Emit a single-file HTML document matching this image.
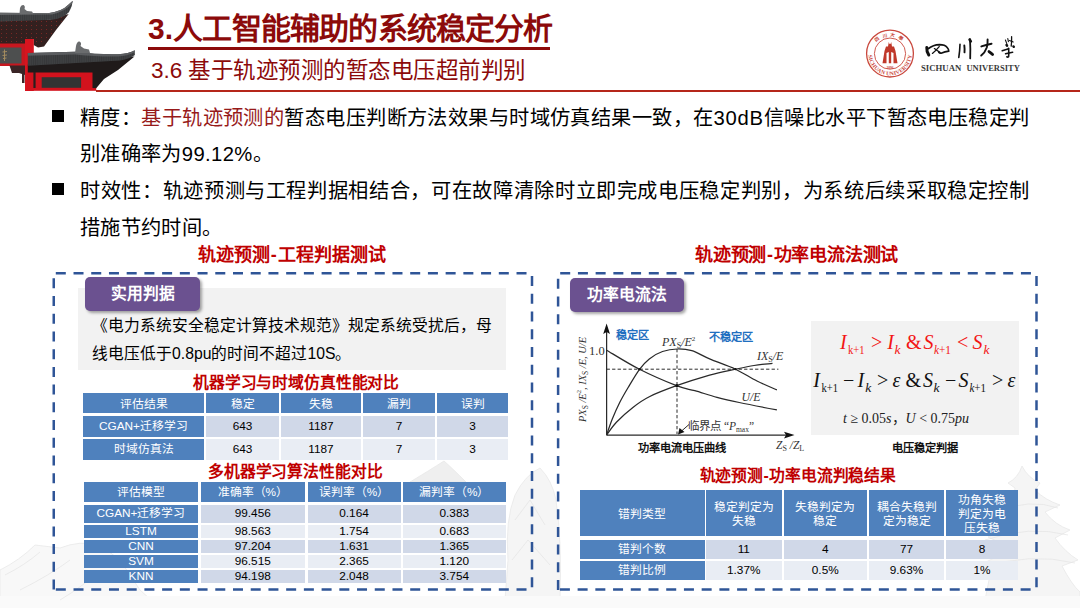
<!DOCTYPE html>
<html lang="zh-CN">
<head>
<meta charset="utf-8">
<style>
*{margin:0;padding:0;box-sizing:border-box;}
html,body{width:1080px;height:608px;overflow:hidden;background:#fff;}
body{position:relative;font-family:"Liberation Sans",sans-serif;color:#000;}
.abs{position:absolute;}
.nw{white-space:nowrap;}
#title{left:148px;top:8.5px;font-size:30px;letter-spacing:-0.82px;font-weight:900;color:#8C0A0A;line-height:40px;}
#uline{left:148px;top:47px;width:402px;height:3.3px;background:#8C0A0A;}
#sub{left:150.9px;top:53.7px;font-size:22.5px;letter-spacing:-0.5px;color:#8C0A0A;line-height:34px;}
#hline{left:96px;top:90px;width:984px;height:2px;background:#B5261A;}
.bul{width:12px;height:12px;background:#000;}
.para{font-size:20.25px;letter-spacing:0.36px;line-height:36px;color:#000;}
.red{color:#971A1A;}
.jl{width:949.5px;text-align:justify;text-align-last:justify;}
.sect{font-size:18px;font-weight:900;color:#C00000;line-height:24px;}
.tab{background:#6B5190;border-radius:5px;color:#fff;font-weight:bold;font-size:15.75px;text-align:center;box-shadow:2px 2px 3px rgba(0,0,0,0.35);}
.gbox{background:#F2F2F2;}
.tt{font-size:15.75px;font-weight:900;letter-spacing:-0.15px;color:#C00000;line-height:20px;}
table{border-collapse:separate;border-spacing:0;}
.tbl{position:absolute;}
.cell{position:absolute;display:flex;align-items:center;justify-content:center;text-align:center;font-size:11.8px;line-height:13.75px;}
.fm{font-family:"Liberation Serif",serif;font-style:italic;font-size:20px;line-height:24px;}
.fm sub{font-style:normal;font-size:13.5px;vertical-align:-4px;line-height:0;}
.fm sub.i{font-style:italic;}
.fm .u{font-style:normal;}
.h{background:#4F81BD;color:#fff;}
.cell{padding-top:1px;}
.hr{padding-top:3px;}
.h3{padding-top:4px;}
.b1{background:#D0D8E8;color:#000;}
.b2{background:#E9EDF4;color:#000;}
</style>
</head>
<body>
<!-- faint background sketch -->
<svg class="abs" style="left:0;top:0" width="1080" height="608" viewBox="0 0 1080 608">
 <g fill="#f5f5f5" stroke="#e9e9e9" stroke-width="0.8">
  <path d="M0,608 L0,570 Q20,560 35,545 L60,548 Q80,540 100,545 L120,560 L140,590 L160,608 Z" fill="#f8f8f8"/>
  <path d="M410,482 Q430,470 444,461 Q452,468 466,482 Z" fill="#efefef"/>
  <path d="M505,600 L508,560 Q505,520 515,495 Q525,475 540,468 Q552,480 556,500 Q562,540 560,600 Z"/>
  <path d="M985,600 L990,575 L975,565 Q1000,560 1005,545 L988,537 Q1008,530 1010,515 L998,508 Q1015,500 1015,488 L1008,483 Q1018,478 1022,466 Q1028,478 1040,483 L1035,490 Q1045,500 1060,505 L1045,512 Q1055,525 1070,530 L1055,538 Q1065,552 1078,560 L1062,566 Q1072,585 1080,592 L1080,608 L985,608 Z"/>
  <path d="M0,596 H1080 V608 H0 Z" stroke="none" fill="#fafafa"/>
 </g>
 <g fill="none" stroke="#e4e4e4" stroke-width="0.7">
  <path d="M5,575 Q25,565 40,552 M20,590 Q50,575 70,560 M60,600 Q85,585 100,570"/>
  <path d="M995,512 Q1030,498 1058,508 M985,540 Q1030,525 1068,535 M980,568 Q1030,552 1075,563"/>
  <path d="M515,520 L530,500 L545,525 M512,560 L528,540 L550,565"/>
 </g>
</svg>

<!-- temple -->
<svg class="abs" style="left:0;top:0" width="140" height="95" viewBox="0 0 140 95">
 <defs>
  <pattern id="tiles" width="2.2" height="4" patternUnits="userSpaceOnUse"><rect width="1" height="4" fill="#2b2c2e"/></pattern>
  <pattern id="brk" width="5" height="4" patternUnits="userSpaceOnUse"><rect x="1" y="1" width="1" height="1" fill="#8a2a26"/></pattern>
 </defs>
 <!-- upper under-eave dark -->
 <path d="M0,20 L50,19.5 L68.7,14 L56,30 L44,46.5 L38,47.5 L33.6,45 L33.6,39 L25,39 L25,44 L0,44 Z" fill="#33201f"/>
 <!-- upper roof tiles -->
 <path d="M0,12.8 L30,13 L48,13.2 Q62,11.5 68,5 L72.8,0.8 Q72.5,6 69,12 Q64,18 52,19.8 L0,21.5 Z" fill="#434547"/>
 <path d="M0,12.8 L48,13.2 Q62,11.5 68,5 L72.8,0.8 L72,3.5 Q66,11 52,14.5 L0,15 Z" fill="#646668"/>
 <path d="M0,15 L52,14.5 Q66,11 72,3.5 Q72.5,6 69,12 Q64,18 52,19.8 L0,21.5 Z" fill="url(#tiles)" opacity="0.45"/>
 <path d="M0,21.5 L52,19.8 L66,16 L50,36 L40,44 L34,44 L34,39 L25,39 L25,43.5 L0,43.5 Z" fill="url(#brk)" opacity="0.8"/>
 <!-- ridge ornament upper -->
 <path d="M19.5,14 L20,8 Q21,4.5 23.5,5 Q25.5,6 24.5,9 L27,11 L32,11.5 L33.5,14 Z" fill="#6a6c6e"/>
 <!-- left red band + plaque -->
 <rect x="0" y="43.5" width="26" height="22.5" fill="#c8171f"/>
 <rect x="0" y="47.5" width="21.5" height="16" fill="#4d4f4f"/>
 <path d="M4.5,49.5 L4.5,61 M2.5,52 L7,51.5 M2.5,55.5 L7,55 M3,58.5 L6.5,58" stroke="#a89060" stroke-width="0.9" fill="none"/>
 <path d="M9.5,65.5 L25,65.5 L25,75 L19,73 L12,73 Z" fill="#3a2526"/>
 <rect x="22" y="73" width="2.5" height="10" fill="#3a2526"/>
 <!-- pillar -->
 <rect x="25" y="39" width="8.8" height="52" fill="#d8141f"/>
 <!-- lower area red -->
 <rect x="26.7" y="66" width="69.5" height="24.8" fill="#d3121d"/>
 <path d="M27.8,64.5 L134.5,56.5 L118,70 L104,79 L96.2,88.3 L92.5,88 L92.5,72.5 L27.8,72.5 Z" fill="#1f1a1a"/>
 <rect x="33.4" y="72" width="2.2" height="16" fill="#2a1e1e"/>
 <rect x="41.7" y="77.2" width="39.4" height="10.6" fill="#323333"/>
 <!-- lower roof tiles -->
 <path d="M27.8,53 L75,51.8 Q100,54.8 118,54.2 Q129,53.6 134.8,50.3 L134.8,55 Q130,58.8 120,60.6 L27.8,65.8 Z" fill="#3f4143"/>
 <path d="M27.8,53 L75,51.8 Q100,54.8 118,54.2 Q129,53.6 134.8,50.3 L134,52.6 Q128,56 118,56.4 Q100,57 75,54.5 L27.8,55.8 Z" fill="#5a5c5f"/>
 <path d="M27.8,55.8 L75,54.5 Q100,57 118,56.4 Q128,56 134,52.6 L134.8,55 Q130,58.8 120,60.6 L27.8,65.8 Z" fill="url(#tiles)" opacity="0.45"/>
 <!-- ridge ornament lower -->
 <path d="M75,53 L76,46 Q77,41 79.5,41.5 Q82,42.5 80.5,46 L84,48.5 L89,49.5 L90,53 Z" fill="#6a6c6e"/>
</svg>

<div id="title" class="abs nw"><span style="letter-spacing:0.14px">3.</span>人工智能辅助的系统稳定分析</div>
<div id="uline" class="abs"></div>
<div id="sub" class="abs nw"><span style="letter-spacing:0">3.6 </span>基于轨迹预测的暂态电压超前判别</div>
<div id="hline" class="abs"></div>

<!-- logo -->
<svg class="abs" style="left:860px;top:26px" width="170" height="56" viewBox="860 26 170 56">
 <g fill="none" stroke="#c9473c">
  <circle cx="890" cy="53.6" r="23.4" stroke-width="1.3"/>
  <circle cx="890" cy="53.6" r="15.6" stroke-width="0.9"/>
 </g>
 <!-- ring text -->
 <defs>
  <path id="arcB" d="M868.2,53.6 A21.8,21.8 0 0 0 911.8,53.6"/>
  <path id="arcT" d="M872.8,53.6 A17.2,17.2 0 0 1 907.2,53.6"/>
 </defs>
 <text font-family="Liberation Serif, serif" font-weight="bold" font-size="5.6" fill="#c9473c" letter-spacing="0.15"><textPath href="#arcB" startOffset="50%" text-anchor="middle">SICHUAN UNIVERSITY</textPath></text>
 <text font-family="Liberation Serif, serif" font-weight="bold" font-size="4.6" fill="#c9473c" letter-spacing="2.6"><textPath href="#arcT" startOffset="50%" text-anchor="middle">四川大學</textPath></text>
 <text x="890" y="68.6" font-family="Liberation Serif, serif" font-weight="bold" font-size="3.6" fill="#c9473c" text-anchor="middle">1896</text>
 <!-- building -->
 <path d="M882.5,63.3 L884.5,51 L886,46.5 L888,46.5 L888.8,42 L889.5,44 L890.5,44 L891.2,42 L892,46.5 L894,46.5 L895.5,51 L897.5,63.3 L893.5,63.3 L893.5,53 L891.2,52 L891.2,63.3 L888.8,63.3 L888.8,52 L886.5,53 L886.5,63.3 Z" fill="#c0392b"/>
 <!-- 四川大學 calligraphy -->
 <g fill="none" stroke="#111" stroke-linecap="round" stroke-linejoin="round">
  <path d="M926.8,47.6 Q926.5,52 928.8,55" stroke-width="3"/>
  <path d="M928.5,48.5 Q933,44.8 939.5,44.6 Q945,44.6 947,47.2 Q949,49.5 948.8,51.2 Q945,51.8 941,53.2 Q939.5,53.3 938.8,52.2" stroke-width="1.7"/>
  <path d="M939.2,46.6 Q936,50.5 932.4,53.4" stroke-width="1.3"/>
  <path d="M934.4,48.6 Q937.5,51 940,52.4" stroke-width="1.3"/>
  <path d="M960,44.2 Q959.8,51 958.8,57.4" stroke-width="1.6"/>
  <path d="M964.3,45.4 Q964.8,49 964.5,52.4" stroke-width="1.9"/>
  <path d="M970,39.2 Q970.6,49 970.2,58.4" stroke-width="1.8"/>
  <path d="M969.6,39.5 L970.8,41.5" stroke-width="2.6"/>
  <path d="M981.4,46.4 Q986,45 991.5,43.8" stroke-width="2"/>
  <path d="M987.6,39.4 Q987.8,44 986.8,47.5 Q985,52.5 981.2,55.6" stroke-width="1.9"/>
  <path d="M989,51.6 Q991.2,53.2 992.6,54.6" stroke-width="2.8"/>
  <path d="M1011.6,36.6 Q1011.8,41.5 1011.2,46.2" stroke-width="1.3"/>
  <path d="M1005.4,40 L1006.8,43.6 M1007.8,38.6 L1008.4,41.6 M1009.5,40.5 L1013.2,42" stroke-width="1.1"/>
  <path d="M1006.6,45 L1007,45.6" stroke-width="2.6"/>
  <path d="M1013.4,46.4 L1013.8,46.8" stroke-width="2.4"/>
  <path d="M1002.2,50.8 Q1005.5,49.6 1008.6,48.8" stroke-width="1.5"/>
  <path d="M1005.6,53.7 Q1009,52.8 1012.6,52.2" stroke-width="1.6"/>
  <path d="M1008.6,48.4 Q1009,53 1008.6,56.6 Q1007.8,57.4 1006.8,56.8" stroke-width="1.6"/>
 </g>
 <text x="921" y="70.8" font-family="Liberation Serif, serif" font-weight="bold" font-size="8.4" fill="#3a3a3a" textLength="40.3" lengthAdjust="spacingAndGlyphs">SICHUAN</text>
 <text x="966.4" y="70.8" font-family="Liberation Serif, serif" font-weight="bold" font-size="8.4" fill="#3a3a3a" textLength="53.5" lengthAdjust="spacingAndGlyphs">UNIVERSITY</text>
</svg>

<!-- bullets -->
<div class="abs bul" style="left:52px;top:110px"></div>
<div id="l1" class="abs para nw jl" style="left:80px;top:99.8px">精度：<span class="red">基于轨迹预测的</span>暂态电压判断方法效果与时域仿真结果一致，在<span style="letter-spacing:0.75px">30dB</span>信噪比水平下暂态电压稳定判</div>
<div class="abs para nw" style="left:80px;top:135.8px">别准确率为99.12%。</div>
<div class="abs bul" style="left:52px;top:182.5px"></div>
<div id="l3" class="abs para nw jl" style="left:80px;top:172.6px">时效性：轨迹预测与工程判据相结合，可在故障清除时立即完成电压稳定判别，为系统后续采取稳定控制</div>
<div class="abs para nw" style="left:80px;top:209.6px">措施节约时间。</div>

<!-- section titles -->
<div class="abs sect nw" style="left:198px;top:242.8px">轨迹预测<span style="margin:0 0.8px">-</span>工程判据测试</div>
<div class="abs sect nw" style="left:695px;top:242.8px;letter-spacing:-0.2px">轨迹预测<span style="margin:0 0.8px">-</span>功率电流法测试</div>

<!-- dashed boxes -->
<svg class="abs" style="left:0;top:0" width="1080" height="608">
 <g fill="none" stroke="#2F5597" stroke-width="2.5" stroke-dasharray="10 7.72">
  <path d="M55.8,273.3 H533.3"/>
  <path d="M55.8,589.5 H533.3"/>
  <path d="M53.75,278.3 V591"/>
  <path d="M532,276.1 V591"/>
  <path d="M560.2,273.2 H1037.8"/>
  <path d="M559.9,589.4 H1037.8"/>
  <path d="M558.1,278.8 V591"/>
  <path d="M1036.5,276.1 V591"/>
 </g>
</svg>

<!-- left panel -->
<div class="abs gbox" style="left:78px;top:288px;width:428px;height:82px"></div>
<div class="abs tab" style="left:85px;top:277px;width:115px;height:34px;line-height:34px">实用判据</div>
<div class="abs nw" style="left:92px;top:311.6px;font-size:15.75px;line-height:28.4px">《电力系统安全稳定计算技术规范》规定系统受扰后，母<br>线电压低于0.8pu的时间不超过10S。</div>

<div class="abs tt nw" style="left:193px;top:373px">机器学习与时域仿真性能对比</div>

<!--T1-->
<div class="cell h hr" style="left:83px;top:393px;width:121px;height:20px">评估结果</div>
<div class="cell h hr" style="left:206px;top:393px;width:73px;height:20px">稳定</div>
<div class="cell h hr" style="left:281px;top:393px;width:80px;height:20px">失稳</div>
<div class="cell h hr" style="left:363px;top:393px;width:72px;height:20px">漏判</div>
<div class="cell h hr" style="left:437px;top:393px;width:71px;height:20px">误判</div>
<div class="cell h" style="left:83px;top:416px;width:121px;height:21px">CGAN+迁移学习</div>
<div class="cell b1" style="left:206px;top:416px;width:73px;height:21px">643</div>
<div class="cell b1" style="left:281px;top:416px;width:80px;height:21px">1187</div>
<div class="cell b1" style="left:363px;top:416px;width:72px;height:21px">7</div>
<div class="cell b1" style="left:437px;top:416px;width:71px;height:21px">3</div>
<div class="cell h" style="left:83px;top:439px;width:121px;height:21px">时域仿真法</div>
<div class="cell b2" style="left:206px;top:439px;width:73px;height:21px">643</div>
<div class="cell b2" style="left:281px;top:439px;width:80px;height:21px">1187</div>
<div class="cell b2" style="left:363px;top:439px;width:72px;height:21px">7</div>
<div class="cell b2" style="left:437px;top:439px;width:71px;height:21px">3</div>
<!--/T1-->

<div class="abs tt nw" style="left:208px;top:462px">多机器学习算法性能对比</div>
<!--T2-->
<div class="cell h hr" style="left:84px;top:482px;width:114px;height:19.5px">评估模型</div>
<div class="cell h hr" style="left:200.5px;top:482px;width:104.5px;height:19.5px">准确率（%）</div>
<div class="cell h hr" style="left:307.5px;top:482px;width:93.0px;height:19.5px">误判率（%）</div>
<div class="cell h hr" style="left:402.5px;top:482px;width:103.5px;height:19.5px">漏判率（%）</div>
<div class="cell h" style="left:84px;top:505px;width:114px;height:17.5px">CGAN+迁移学习</div>
<div class="cell b1" style="left:200.5px;top:505px;width:104.5px;height:17.5px">99.456</div>
<div class="cell b1" style="left:307.5px;top:505px;width:93.0px;height:17.5px">0.164</div>
<div class="cell b1" style="left:402.5px;top:505px;width:103.5px;height:17.5px">0.383</div>
<div class="cell h" style="left:84px;top:524.5px;width:114px;height:13.0px">LSTM</div>
<div class="cell b2" style="left:200.5px;top:524.5px;width:104.5px;height:13.0px">98.563</div>
<div class="cell b2" style="left:307.5px;top:524.5px;width:93.0px;height:13.0px">1.754</div>
<div class="cell b2" style="left:402.5px;top:524.5px;width:103.5px;height:13.0px">0.683</div>
<div class="cell h" style="left:84px;top:539.5px;width:114px;height:13.5px">CNN</div>
<div class="cell b1" style="left:200.5px;top:539.5px;width:104.5px;height:13.5px">97.204</div>
<div class="cell b1" style="left:307.5px;top:539.5px;width:93.0px;height:13.5px">1.631</div>
<div class="cell b1" style="left:402.5px;top:539.5px;width:103.5px;height:13.5px">1.365</div>
<div class="cell h" style="left:84px;top:554.5px;width:114px;height:13.5px">SVM</div>
<div class="cell b2" style="left:200.5px;top:554.5px;width:104.5px;height:13.5px">96.515</div>
<div class="cell b2" style="left:307.5px;top:554.5px;width:93.0px;height:13.5px">2.365</div>
<div class="cell b2" style="left:402.5px;top:554.5px;width:103.5px;height:13.5px">1.120</div>
<div class="cell h" style="left:84px;top:569.5px;width:114px;height:13.0px">KNN</div>
<div class="cell b1" style="left:200.5px;top:569.5px;width:104.5px;height:13.0px">94.198</div>
<div class="cell b1" style="left:307.5px;top:569.5px;width:93.0px;height:13.0px">2.048</div>
<div class="cell b1" style="left:402.5px;top:569.5px;width:103.5px;height:13.0px">3.754</div>
<!--/T2-->

<!-- right panel -->
<div class="abs tab" style="left:570px;top:278px;width:114px;height:34px;line-height:34px">功率电流法</div>

<div class="abs gbox" style="left:811px;top:321px;width:208px;height:114px"></div>

<!-- chart -->
<svg class="abs" style="left:0;top:0" width="1080" height="608" viewBox="0 0 1080 608">
 <defs><marker id="ah" markerWidth="8" markerHeight="8" refX="7" refY="4" orient="auto" markerUnits="userSpaceOnUse"><path d="M0,0.5 L8,4 L0,7.5 L2,4 Z" fill="#111"/></marker></defs>
 <g fill="none" stroke="#2a2a2a" stroke-width="1.25">
  <path d="M606.6,435.1 L606.6,327"/>
  <path d="M606.6,435.1 L791,435.1"/>
  <path d="M606.6,369.2 L778.4,369.2" stroke-dasharray="3.3 2.2" stroke-width="1"/>
  <path d="M677,349 L677,434" stroke-dasharray="3.3 2.2" stroke-width="1"/>
  <path d="M606.6,350.2 C612.1,353.4 627.9,363.4 639.5,369.3 C651.1,375.2 667.3,382.1 676.5,385.7 C685.7,389.3 688.0,388.8 694.8,390.7 C701.5,392.6 709.6,395.3 717.0,397.3 C724.4,399.3 729.2,400.4 739.2,402.5 C749.2,404.6 770.6,408.7 776.9,409.9"/>
  <path d="M606.6,435.1 C607.5,432.4 610.1,424.4 612.3,419.0 C614.5,413.6 617.1,407.7 619.7,402.5 C622.3,397.3 624.7,393.2 628.0,387.7 C631.3,382.2 636.0,374.1 639.5,369.3 C643.0,364.5 645.5,361.9 649.3,358.9 C653.1,355.9 657.8,353.1 662.5,351.5 C667.2,349.9 672.4,349.1 677.3,349.0 C682.2,348.9 686.4,349.1 691.8,350.7 C697.2,352.3 702.3,355.8 709.6,358.9 C716.9,362.0 727.6,365.5 735.5,369.2 C743.4,372.9 750.1,377.6 757.0,381.0 C763.9,384.4 773.6,388.4 776.9,389.9"/>
  <path d="M606.6,435.1 C608.2,433.0 612.0,426.8 616.4,422.2 C620.8,417.6 627.4,411.6 632.9,407.4 C638.4,403.1 642.0,400.3 649.3,396.7 C656.6,393.1 666.5,389.3 676.5,385.7 C686.5,382.1 699.8,377.9 709.6,375.1 C719.4,372.4 728.1,370.8 735.5,369.2 C742.9,367.6 747.8,366.5 754.0,365.5 C760.2,364.5 769.4,363.7 772.5,363.3"/>
  <path d="M689,424.5 L681,431.5" stroke-width="1"/>
 </g>
 <path d="M606.6,323.5 L603.2,334 L606.6,332 L610,334 Z" fill="#111"/>
 <path d="M794.5,435.1 L784,431.7 L786,435.1 L784,438.5 Z" fill="#111"/>
 <path d="M678,434.5 L679.5,428 L684.5,432 Z" fill="#111"/>
 <circle cx="676.8" cy="385.7" r="1.6" fill="#111"/>
 <circle cx="639.5" cy="369.3" r="1.2" fill="#111"/>
 <circle cx="735.5" cy="369.2" r="1.1" fill="#111"/>
 <g font-family="Liberation Serif, serif" font-style="italic" fill="#333" font-size="12.5">
  <text x="589" y="354.5" font-style="normal" font-size="12.5">1.0</text>
  <text x="662" y="345.5" font-size="12">PX<tspan font-style="normal" font-size="8" dy="2">S</tspan><tspan dy="-2">/E</tspan><tspan font-style="normal" font-size="7" dy="-5">2</tspan></text>
  <text x="757" y="360.3" font-size="12">IX<tspan font-style="normal" font-size="8" dy="2">S</tspan><tspan dy="-2">/E</tspan></text>
  <text x="741.5" y="401" font-size="11.8">U/E</text>
  <text x="776" y="449" font-size="11.5">Z<tspan font-style="normal" font-size="8" dy="1.5">S</tspan><tspan dy="-1.5"> /Z</tspan><tspan font-style="normal" font-size="8" dy="1.5">L</tspan></text>
  <text x="688" y="430" font-style="normal" font-size="11.5">临界点 “<tspan font-style="italic">P</tspan><tspan font-size="7.5" dy="1.5">max</tspan><tspan dy="-1.5">”</tspan></text>
  <text transform="translate(586,422) rotate(-90)" font-size="11" textLength="85" lengthAdjust="spacingAndGlyphs">PX<tspan font-style="normal" font-size="8" dy="2">S</tspan><tspan dy="-2"> /E</tspan><tspan font-style="normal" font-size="7" dy="-5">2</tspan><tspan dy="5">, IX</tspan><tspan font-style="normal" font-size="8" dy="2">S</tspan><tspan dy="-2"> /E, U/E</tspan></text>
 </g>
 <g font-family="Liberation Sans, sans-serif" font-weight="bold" fill="#1F6FC0" font-size="11.2">
  <text x="615.5" y="339">稳定区</text>
  <text x="708.5" y="341">不稳定区</text>
 </g>
 <g font-family="Liberation Sans, sans-serif" font-weight="bold" fill="#111" font-size="11.2">
  <text x="637.5" y="451.5">功率电流电压曲线</text>
  <text x="892.2" y="451.5">电压稳定判据</text>
 </g>
</svg>
<!-- formulas -->
<svg class="abs" style="left:0;top:0" width="1080" height="608" viewBox="0 0 1080 608" font-family="Liberation Serif, serif">
 <g fill="#F31515" font-size="20">
  <text x="840" y="349.2" font-style="italic">I</text>
  <text x="848" y="354.2" font-size="13.5" textLength="16.5" lengthAdjust="spacingAndGlyphs">k+1</text>
  <text x="871" y="349.2">&gt;</text>
  <text x="887.3" y="349.2" font-style="italic">I</text>
  <text x="894.5" y="354.2" font-size="13.5" font-style="italic">k</text>
  <text x="906" y="349.2">&amp;</text>
  <text x="923.5" y="349.2" font-style="italic">S</text>
  <text x="934" y="354.2" font-size="13.5" textLength="17" lengthAdjust="spacingAndGlyphs"><tspan font-style="italic">k</tspan>+1</text>
  <text x="957" y="349.2">&lt;</text>
  <text x="972.6" y="349.2" font-style="italic">S</text>
  <text x="983.5" y="354.2" font-size="13.5" font-style="italic">k</text>
 </g>
 <g fill="#111" font-size="20">
  <text x="813.3" y="387.1" font-style="italic">I</text>
  <text x="821.5" y="392.1" font-size="13.5" textLength="16.5" lengthAdjust="spacingAndGlyphs">k+1</text>
  <text x="843" y="387.1">−</text>
  <text x="857.5" y="387.1" font-style="italic">I</text>
  <text x="865.3" y="392.1" font-size="13.5" font-style="italic">k</text>
  <text x="877" y="387.1">&gt;</text>
  <text x="892.5" y="387.1" font-style="italic">ε</text>
  <text x="905.5" y="387.1">&amp;</text>
  <text x="923" y="387.1" font-style="italic">S</text>
  <text x="933.5" y="392.1" font-size="13.5" font-style="italic">k</text>
  <text x="945" y="387.1">−</text>
  <text x="958.5" y="387.1" font-style="italic">S</text>
  <text x="969.5" y="392.1" font-size="13.5" textLength="16.5" lengthAdjust="spacingAndGlyphs"><tspan font-style="italic">k</tspan>+1</text>
  <text x="992" y="387.1">&gt;</text>
  <text x="1007.5" y="387.1" font-style="italic">ε</text>
 </g>
 <g fill="#222" font-size="14">
  <text x="843" y="423"><tspan font-style="italic">t</tspan> ≥ 0.05<tspan font-style="italic">s</tspan>，<tspan font-style="italic">U</tspan> &lt; 0.75<tspan font-style="italic">pu</tspan></text>
 </g>
</svg>

<div class="abs tt nw" style="left:699.5px;top:466px">轨迹预测<span style="margin:0 0.6px">-</span>功率电流判稳结果</div>
<!--T3-->
<div class="cell h hr h3" style="left:579.5px;top:490px;width:125.0px;height:45.5px">错判类型</div>
<div class="cell h hr h3" style="left:706px;top:490px;width:75.5px;height:45.5px">稳定判定为<br>失稳</div>
<div class="cell h hr h3" style="left:783.5px;top:490px;width:83.5px;height:45.5px">失稳判定为<br>稳定</div>
<div class="cell h hr h3" style="left:869px;top:490px;width:75px;height:45.5px">耦合失稳判<br>定为稳定</div>
<div class="cell h hr h3" style="left:946px;top:490px;width:72px;height:45.5px">功角失稳<br>判定为电<br>压失稳</div>
<div class="cell h" style="left:579.5px;top:539.5px;width:125.0px;height:19.0px">错判个数</div>
<div class="cell b1" style="left:706px;top:539.5px;width:75.5px;height:19.0px">11</div>
<div class="cell b1" style="left:783.5px;top:539.5px;width:83.5px;height:19.0px">4</div>
<div class="cell b1" style="left:869px;top:539.5px;width:75px;height:19.0px">77</div>
<div class="cell b1" style="left:946px;top:539.5px;width:72px;height:19.0px">8</div>
<div class="cell h" style="left:579.5px;top:561px;width:125.0px;height:19px">错判比例</div>
<div class="cell b2" style="left:706px;top:561px;width:75.5px;height:19px">1.37%</div>
<div class="cell b2" style="left:783.5px;top:561px;width:83.5px;height:19px">0.5%</div>
<div class="cell b2" style="left:869px;top:561px;width:75px;height:19px">9.63%</div>
<div class="cell b2" style="left:946px;top:561px;width:72px;height:19px">1%</div>
<!--/T3-->

</body>
</html>
